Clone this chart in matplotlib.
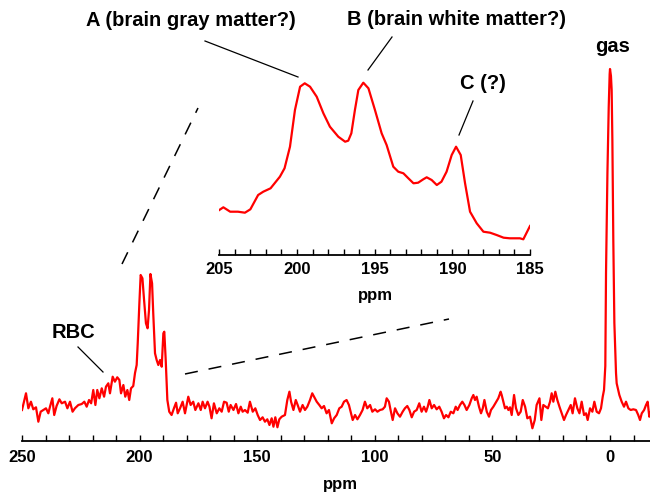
import matplotlib
matplotlib.use('Agg')
import matplotlib.pyplot as plt
from matplotlib.lines import Line2D
from matplotlib.ticker import FixedLocator, MultipleLocator

plt.rcParams['font.family'] = ['Liberation Sans', 'DejaVu Sans']
plt.rcParams['font.weight'] = 'bold'
plt.rcParams['lines.scale_dashes'] = False

# ---- data (chemical shift in ppm, intensity in arbitrary units) ----
main_ppm = [250.0, 248.3, 247.3, 246.2, 245.2, 244.05, 243.05, 242.06, 240.9, 239.8,
            238.8, 238.1, 237.1, 236.3, 235.3, 234.1, 233.1, 231.7, 230.7, 229.6,
            228.5, 227.5, 226.05, 224.6, 223.5, 222.5, 221.5, 220.6, 219.7, 218.8,
            218.0, 217.1, 216.1, 215.1, 214.3, 213.3, 212.6, 211.45, 210.5, 209.5,
            208.6, 207.9, 206.9, 206.1, 205.2, 204.4, 203.65, 202.7, 201.95, 201.25,
            200.8, 200.1, 199.55, 198.8, 198.1, 197.3, 196.6, 196.0, 195.4, 194.7,
            194.2, 193.45, 192.75, 192.04, 191.3, 190.6, 189.9, 189.5, 188.9, 188.2,
            187.4, 186.4, 185.4, 184.5, 183.8,
            182.8, 181.7, 180.7, 179.3, 178.3, 177.2, 176.3, 175.0, 174.0, 173.2,
            172.2, 171.1, 170.3, 169.4, 168.4, 167.2, 166.1, 165.1, 164.1, 163.0,
            162.1, 161.3, 160.1, 159.0, 158.0, 157.0, 156.2, 155.2, 154.05, 153.1,
            151.9, 150.8, 149.8, 148.8, 147.7, 146.7, 145.7, 144.8, 143.85, 143.1,
            142.3, 141.4, 140.6, 139.6, 138.2, 137.2, 136.3, 135.6, 134.6, 133.6,
            132.8, 131.8, 130.7, 129.7, 128.7, 127.55, 126.6, 125.85, 124.7, 123.6,
            122.6, 121.6, 120.5, 119.5, 118.3, 117.3, 116.2, 115.1, 114.1,
            113.1, 112.0, 111.0, 110.1, 109.4, 108.4, 107.4, 106.3, 105.2, 104.2,
            103.2, 102.0, 101.05, 99.9, 98.9, 97.8, 96.66, 95.7, 94.96, 94.0,
            93.3, 92.4, 91.4, 90.4, 89.3, 88.16, 87.2, 86.2, 85.3, 84.3,
            83.3, 82.2, 81.1, 80.1, 79.1, 78.2, 77.5, 76.8, 75.8, 74.8,
            73.7, 72.6, 71.6, 70.6, 69.7, 68.7, 67.7, 66.6, 65.6, 64.8,
            63.8, 62.8, 61.9, 60.95, 59.8, 58.8, 58.1, 57.4, 56.7, 55.7,
            54.85, 54.1, 53.4, 52.4, 51.45, 50.6, 49.6, 48.6, 47.5, 46.5,
            46.06, 45.35, 44.65, 43.9, 43.2, 42.5, 41.8, 40.8, 39.97, 38.97,
            37.98, 37.1, 36.1, 35.15, 34.0, 33.0, 32.0, 31.2, 30.0, 29.2,
            28.35, 27.35, 26.4, 25.5, 24.8, 24.1, 23.25, 22.4, 21.5, 20.55,
            19.56, 18.7, 17.7, 16.7, 15.9, 14.9, 13.9, 13.0, 12.05, 11.05,
            10.2, 9.5, 8.5, 7.5, 6.66, 5.67, 4.68, 3.83, 3.1, 2.55,
            2.0, 1.7, 1.1, 0.55, 0.15, 0.0, -0.4, -0.7, -1.0, -1.4,
            -1.85, -2.55, -2.83, -3.97, -4.96, -5.95, -6.8, -7.8, -8.8, -9.9,
            -11.05, -12.0, -12.75, -13.5, -14.5, -15.3, -16.0, -16.7, -17.0]
main_int = [31, 47.7, 32.7, 39.3, 31.7, 33.7, 19.3, 29.3, 31, 32.7,
            27.7, 34.3, 42.7, 26, 35, 41.7, 37.7, 39.3, 32.7, 39.3,
            29.3, 32.7, 36, 37, 39.3, 34.3, 41, 37.7, 51, 36,
            51, 42.7, 52.7, 44.3, 54.3, 57.7, 47.7, 64.3, 59.3, 63.7,
            61, 47.7, 56, 44.3, 51, 41, 52.7, 55, 68, 76,
            97.7, 137.7, 166, 162.7, 141, 117.7, 112.7, 131, 167, 157.7,
            127.7, 87.7, 81, 76, 81, 74.3, 107.7, 109.3, 81, 41,
            29.3, 26, 32.7, 38.3, 27.7,
            32.7, 39.3, 27.7, 44.3, 36, 39.3, 31, 37.7, 31, 39.3,
            32.7, 39.3, 34.3, 22.7, 37.7, 27.7, 32.7, 29.3, 39.3, 38.3,
            29.3, 36, 31, 37, 27.7, 34.3, 29.3, 31, 28.3, 39.3,
            29.3, 32.7, 26, 21, 23.7, 19.3, 21.7, 16, 22.7, 14.3,
            23.7, 13.7, 21.7, 24.3, 26, 41, 49.3, 39.3, 31, 41,
            36, 29.3, 36, 31, 34.3, 41, 47.7, 44.3, 39.3, 36,
            32.7, 35, 27.7, 31, 17.7, 22.7, 26, 32.7, 34.3,
            39.3, 41, 36, 27.7, 21, 26, 21.7, 26, 31, 39.3,
            32.7, 36, 29.3, 31.7, 29.3, 31, 31.7, 34.3, 42.7, 39.3,
            31, 21, 32.7, 27.7, 24.3, 29.3, 32.7, 35, 31, 23.7,
            29.3, 31, 37.7, 29.3, 34.3, 29.3, 34.3, 41, 32.7, 36,
            31.7, 34.3, 29.3, 22.7, 26, 23.7, 29.3, 27.7, 34.3, 31,
            36, 39.3, 36, 31, 36, 42.7, 46, 41, 44.3, 34.3,
            27.7, 32.7, 41, 29.3, 24.3, 31, 34.3, 38.3, 42.7, 49.3,
            46, 39.3, 32.7, 34.3, 31, 33.7, 26, 46, 32.7, 26,
            29.3, 41, 34.3, 22.7, 24.3, 12.7, 21, 36, 42.7, 21,
            36, 34.3, 32.7, 39.3, 47.7, 39.3, 49.3, 41, 34.3, 27.7,
            21, 26, 31, 36, 27.7, 42.7, 32.7, 27.7, 39.3, 26,
            27.7, 21, 32.7, 29.3, 39.3, 29.3, 27.7, 32.7, 44.3, 51,
            75, 168, 268, 334, 367, 372, 365, 351, 301, 201,
            118, 68, 57.7, 46, 39.3, 34.3, 39.3, 32.7, 31, 31.7,
            31, 26, 21, 27.7, 31, 36, 39.3, 24.3, 28]

inset_ppm = [205.0, 204.74, 204.3, 203.8, 203.35, 203.0, 202.5, 202.17, 201.7, 201.1,
             200.8, 200.45, 200.13, 199.8, 199.5, 199.16, 198.73, 198.3, 197.88, 197.34,
             196.9, 196.7, 196.5, 196.27, 196.05, 195.73, 195.4, 194.98, 194.55, 194.23,
             193.8, 193.48, 193.15, 192.83, 192.5, 192.2, 191.87, 191.65, 191.33, 191.0,
             190.7, 190.37, 190.04, 189.76, 189.46, 189.18, 188.86, 188.43, 188.0, 187.57,
             187.15, 186.7, 186.3, 185.65, 185.43, 185.0]
inset_int = [45, 47.7, 43.3, 43.3, 42.3, 45.7, 60, 63.3, 66.7, 78.3,
             86.7, 108.3, 145, 168.3, 171.7, 168.3, 158.3, 141.7, 128.3, 118.3,
             113.3, 114.3, 121.7, 145, 165, 172.3, 166.7, 145, 121.7, 110,
             88.3, 83.3, 81.7, 76.7, 71.7, 72.3, 75.7, 77.7, 75, 70,
             73.3, 83.3, 100, 108.3, 100, 71.7, 43.3, 31.7, 23.3, 22.3,
             20, 17.3, 16.7, 16.7, 15.7, 29]

main_ticks = [250, 200, 150, 100, 50, 0]
inset_ticks = [205, 200, 195, 190, 185]

W, H = 650, 496
fig = plt.figure(figsize=(W / 100, H / 100), dpi=100)


def fx(x):
    return x / W


def fy(y):
    return 1 - y / H


RED = '#ff0000'

# ---- main spectrum ----
ax = fig.add_axes([22 / W, 1 - 441 / H, 628 / W, 441 / H])
ax.plot(main_ppm, main_int, color=RED, lw=1.6, solid_joinstyle='round')
ax.set_xlim(250, -17)
ax.set_ylim(0, 441)
for s in ['top', 'right', 'left']:
    ax.spines[s].set_visible(False)
ax.spines['bottom'].set_linewidth(1.3)
ax.xaxis.set_major_locator(FixedLocator(main_ticks))
ax.xaxis.set_minor_locator(MultipleLocator(10))
ax.tick_params(axis='x', which='both', direction='in', length=4, width=1.0,
               pad=6.5, labelsize=12)
ax.set_yticks([])
ax.patch.set_alpha(0)

# ---- inset ----
axi = fig.add_axes([219.3 / W, 1 - 255 / H, (530 - 219.3) / W, 200 / H])
axi.plot(inset_ppm, inset_int, color=RED, lw=1.6, solid_joinstyle='round')
axi.set_xlim(205, 185)
axi.set_ylim(0, 200)
for s in ['top', 'right', 'left']:
    axi.spines[s].set_visible(False)
axi.spines['bottom'].set_linewidth(1.3)
axi.xaxis.set_major_locator(FixedLocator(inset_ticks))
axi.xaxis.set_minor_locator(MultipleLocator(1))
axi.tick_params(axis='x', which='both', direction='in', length=4, width=1.0,
                pad=5, labelsize=12)
axi.set_yticks([])
axi.patch.set_alpha(0)

# ---- axis titles ----
fig.text(fx(340), fy(489), 'ppm', ha='center', va='baseline', fontsize=12, fontweight='bold')
fig.text(fx(375), fy(300), 'ppm', ha='center', va='baseline', fontsize=12, fontweight='bold')

# ---- annotations ----
LAB = 14.5
fig.text(fx(191), fy(25.7), 'A (brain gray matter?)', ha='center', va='baseline',
         fontsize=LAB, fontweight='bold')
fig.text(fx(456.5), fy(25), 'B (brain white matter?)', ha='center', va='baseline',
         fontsize=LAB, fontweight='bold')
fig.text(fx(482.5), fy(89), 'C (?)', ha='center', va='baseline',
         fontsize=LAB, fontweight='bold')
fig.text(fx(613), fy(51.7), 'gas', ha='center', va='baseline',
         fontsize=LAB, fontweight='bold')
fig.text(fx(73.3), fy(338.3), 'RBC', ha='center', va='baseline',
         fontsize=LAB, fontweight='bold')


def seg(x0, y0, x1, y1, **kw):
    fig.add_artist(Line2D([fx(x0), fx(x1)], [fy(y0), fy(y1)],
                          transform=fig.transFigure, color='black', **kw))


seg(205, 41, 298, 77, lw=0.9)
seg(392, 37, 368, 70, lw=0.9)
seg(473, 101, 459, 135, lw=0.9)
seg(78, 347, 103, 372, lw=0.9)
seg(122, 264, 198, 108, lw=1.1, dashes=(9.4, 7.9))
seg(185, 374, 449, 319, lw=1.1, dashes=(9.4, 7.9))

fig.savefig('out.png', dpi=100)
